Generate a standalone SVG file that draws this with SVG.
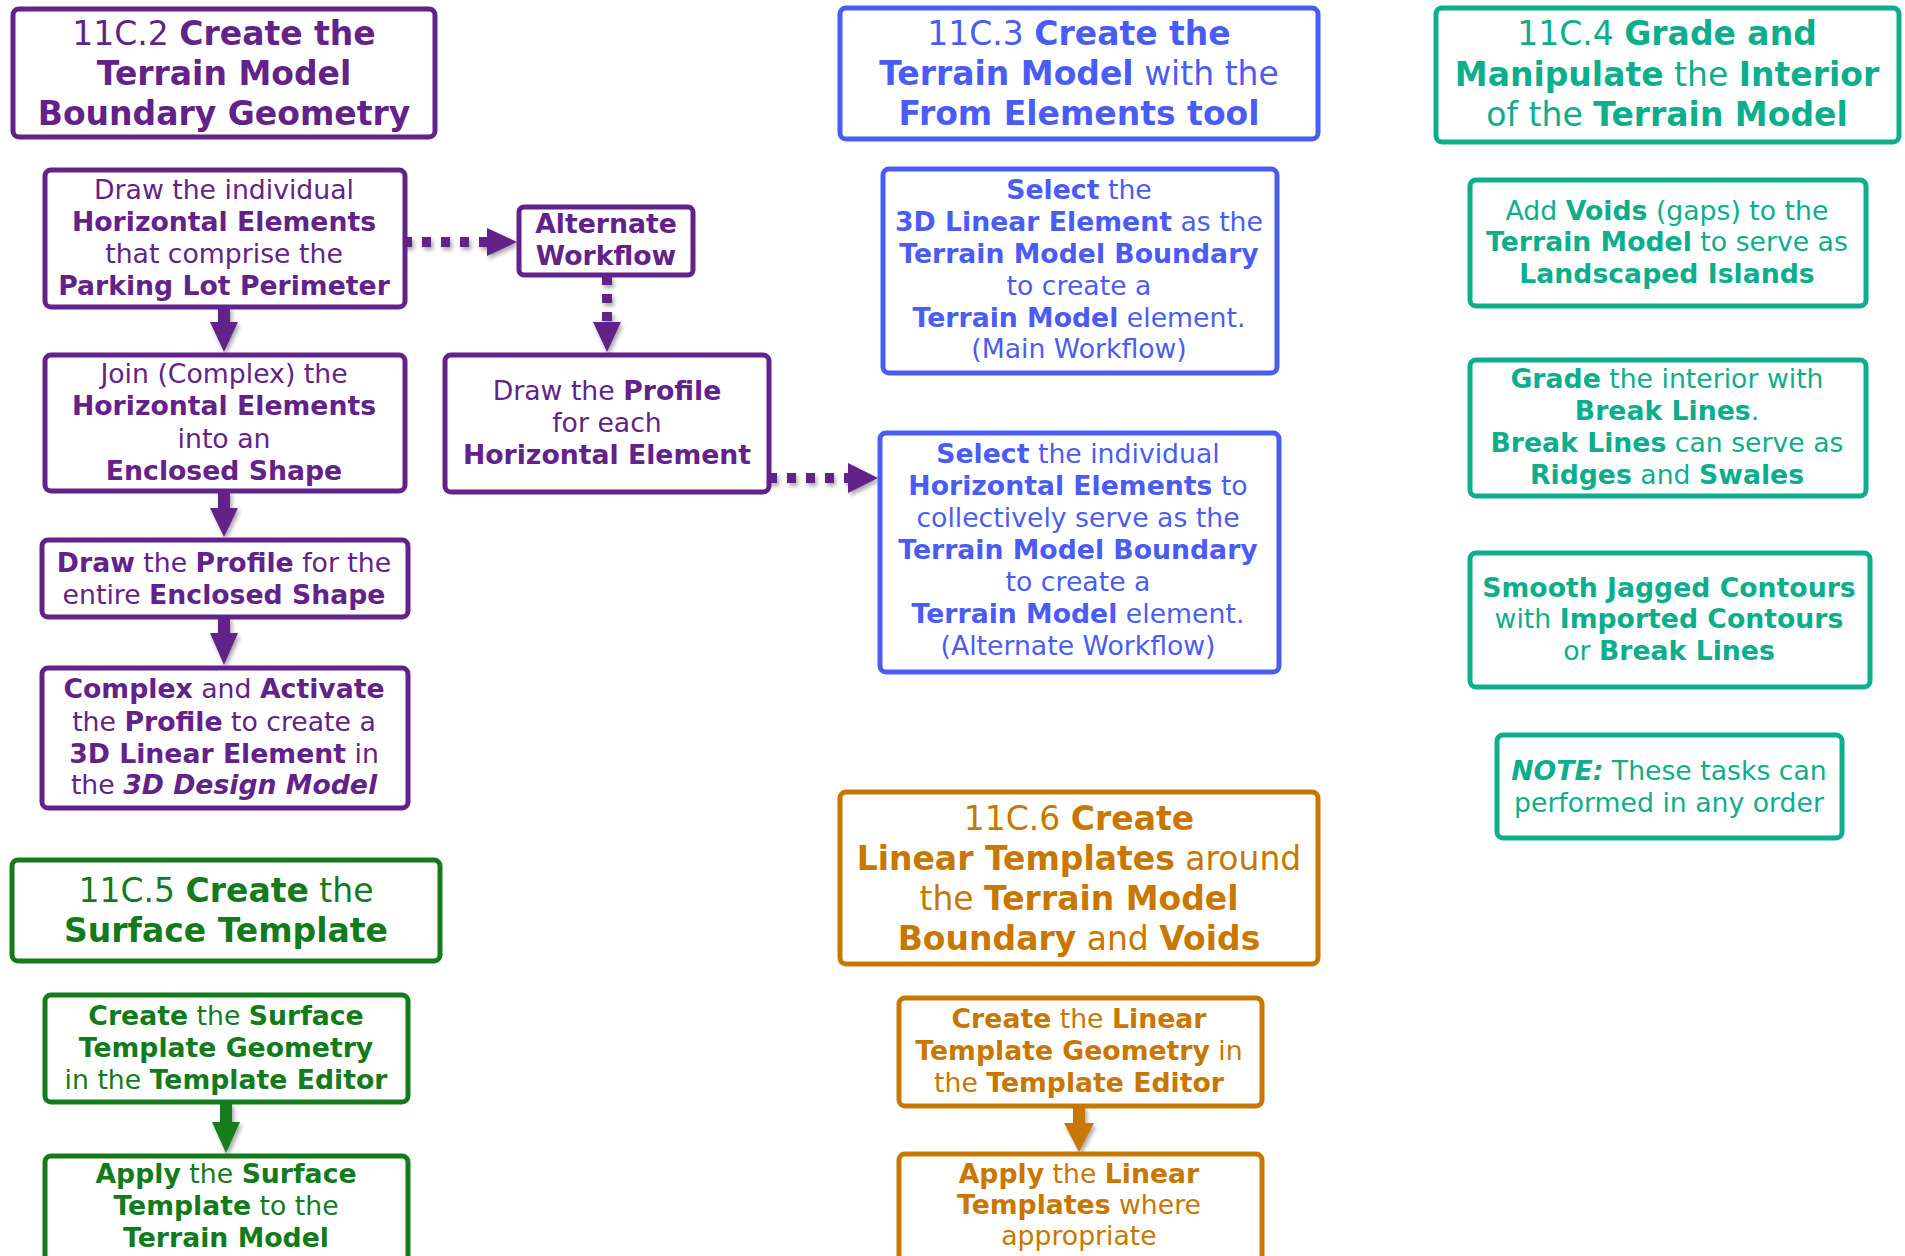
<svg xmlns="http://www.w3.org/2000/svg" width="1905" height="1256" viewBox="0 0 1905 1256">
  <style>
    text { font-family: "DejaVu Sans", Verdana, "Liberation Sans", sans-serif; text-anchor: middle; }
    .hd { font-size: 33px; }
    .bd { font-size: 26.7px; }
    .b { font-weight: bold; }
    .bi { font-weight: bold; font-style: italic; }
    rect.box { fill: #ffffff; stroke-width: 5; }
    .pu rect { stroke: #632289; } .pu text { fill: #632289; }
    .bl rect { stroke: #4B5CF5; } .bl text { fill: #4B5CF5; }
    .tl rect { stroke: #0DAE8B; } .tl text { fill: #0DAE8B; }
    .gr rect { stroke: #137B1C; } .gr text { fill: #137B1C; }
    .or rect { stroke: #C87700; } .or text { fill: #C87700; }
    .dot { fill: none; stroke-width: 10; }
  </style>
  <defs>
    <filter id="shade" x="-30%" y="-30%" width="160%" height="160%">
      <feDropShadow dx="2" dy="3" stdDeviation="2" flood-color="#000" flood-opacity="0.35"/>
    </filter>
  </defs>
  <rect width="1905" height="1256" fill="#ffffff"/>

  <!-- connectors -->
  <g id="connectors" filter="url(#shade)">
    <!-- purple solid chain -->
    <g fill="#632289">
      <rect x="218" y="307" width="12" height="17"/>
      <polygon points="210,322 238,322 224,352"/>
      <rect x="218" y="491" width="12" height="18"/>
      <polygon points="210,508 238,508 224,537"/>
      <rect x="218" y="617" width="12" height="17"/>
      <polygon points="210,633 238,633 224,665"/>
    </g>
    <!-- purple dotted: alternate workflow -->
    <g fill="#632289" stroke="#632289">
      <line class="dot" x1="403" y1="242" x2="489" y2="242" stroke-dasharray="9 10"/>
      <polygon stroke="none" points="487,228 487,256 517,242"/>
      <line class="dot" x1="607" y1="276" x2="607" y2="323" stroke-dasharray="9 9"/>
      <polygon stroke="none" points="593,322 621,322 607,352"/>
      <line class="dot" x1="768" y1="478" x2="850" y2="478" stroke-dasharray="9 10"/>
      <polygon stroke="none" points="848,463 848,493 878,478"/>
    </g>
    <!-- green -->
    <g fill="#137B1C">
      <rect x="220" y="1103" width="12" height="21"/>
      <polygon points="212,1122 240,1122 226,1153"/>
    </g>
    <!-- orange -->
    <g fill="#C87700">
      <rect x="1073" y="1106" width="12" height="18"/>
      <polygon points="1064,1123 1094,1123 1079,1152"/>
    </g>
  </g>

  <!-- 11C.2 column -->
  <g id="h-11c2" class="pu">
    <rect class="box" x="13" y="9" width="422" height="128" rx="6"/>
    <text class="hd" x="224" y="45">11C.2 <tspan class="b">Create the</tspan></text>
    <text class="hd b" x="224" y="85">Terrain Model</text>
    <text class="hd b" x="224" y="125">Boundary Geometry</text>
  </g>
  <g id="n-draw-horizontal" class="pu">
    <rect class="box" x="45" y="170" width="360" height="137" rx="6"/>
    <text class="bd" x="224" y="199">Draw the individual</text>
    <text class="bd b" x="224" y="231">Horizontal Elements</text>
    <text class="bd" x="224" y="263">that comprise the</text>
    <text class="bd b" x="224" y="295">Parking Lot Perimeter</text>
  </g>
  <g id="n-join" class="pu">
    <rect class="box" x="45" y="355" width="360" height="136" rx="6"/>
    <text class="bd" x="224" y="383">Join (Complex) the</text>
    <text class="bd b" x="224" y="415">Horizontal Elements</text>
    <text class="bd" x="224" y="448">into an</text>
    <text class="bd b" x="224" y="480">Enclosed Shape</text>
  </g>
  <g id="n-draw-profile" class="pu">
    <rect class="box" x="42" y="540" width="366" height="77" rx="6"/>
    <text class="bd" x="224" y="572"><tspan class="b">Draw</tspan> the <tspan class="b">Profile</tspan> for the</text>
    <text class="bd" x="224" y="604">entire <tspan class="b">Enclosed Shape</tspan></text>
  </g>
  <g id="n-complex-activate" class="pu">
    <rect class="box" x="42" y="668" width="366" height="140" rx="6"/>
    <text class="bd" x="224" y="698"><tspan class="b">Complex</tspan> and <tspan class="b">Activate</tspan></text>
    <text class="bd" x="224" y="731">the <tspan class="b">Profile</tspan> to create a</text>
    <text class="bd" x="224" y="763"><tspan class="b">3D Linear Element</tspan> in</text>
    <text class="bd" x="224" y="794">the <tspan class="bi">3D Design Model</tspan></text>
  </g>
  <g id="n-alternate" class="pu">
    <rect class="box" x="519" y="207" width="174" height="68" rx="5"/>
    <text class="bd b" x="606" y="233">Alternate</text>
    <text class="bd b" x="606" y="265">Workflow</text>
  </g>
  <g id="n-profile-each" class="pu">
    <rect class="box" x="445" y="355" width="324" height="137" rx="6"/>
    <text class="bd" x="607" y="400">Draw the <tspan class="b">Profile</tspan></text>
    <text class="bd" x="607" y="432">for each</text>
    <text class="bd b" x="607" y="464">Horizontal Element</text>
  </g>

  <!-- 11C.5 -->
  <g id="h-11c5" class="gr">
    <rect class="box" x="12" y="860" width="428" height="101" rx="6"/>
    <text class="hd" x="226" y="902">11C.5 <tspan class="b">Create</tspan> the</text>
    <text class="hd b" x="226" y="942">Surface Template</text>
  </g>
  <g id="n-surface-geometry" class="gr">
    <rect class="box" x="45" y="995" width="363" height="107" rx="6"/>
    <text class="bd" x="226" y="1025"><tspan class="b">Create</tspan> the <tspan class="b">Surface</tspan></text>
    <text class="bd b" x="226" y="1057">Template Geometry</text>
    <text class="bd" x="226" y="1089">in the <tspan class="b">Template Editor</tspan></text>
  </g>
  <g id="n-surface-apply" class="gr">
    <rect class="box" x="45" y="1156" width="363" height="130" rx="6"/>
    <text class="bd" x="226" y="1183"><tspan class="b">Apply</tspan> the <tspan class="b">Surface</tspan></text>
    <text class="bd" x="226" y="1215"><tspan class="b">Template</tspan> to the</text>
    <text class="bd b" x="226" y="1247">Terrain Model</text>
  </g>

  <!-- 11C.3 -->
  <g id="h-11c3" class="bl">
    <rect class="box" x="840" y="8" width="478" height="131" rx="6"/>
    <text class="hd" x="1079" y="45">11C.3 <tspan class="b">Create the</tspan></text>
    <text class="hd" x="1079" y="85"><tspan class="b">Terrain Model</tspan> with the</text>
    <text class="hd b" x="1079" y="125">From Elements tool</text>
  </g>
  <g id="n-select-3d" class="bl">
    <rect class="box" x="883" y="169" width="394" height="204" rx="6"/>
    <text class="bd" x="1079" y="199"><tspan class="b">Select</tspan> the</text>
    <text class="bd" x="1079" y="231"><tspan class="b">3D Linear Element</tspan> as the</text>
    <text class="bd b" x="1079" y="263">Terrain Model Boundary</text>
    <text class="bd" x="1079" y="295">to create a</text>
    <text class="bd" x="1079" y="327"><tspan class="b">Terrain Model</tspan> element.</text>
    <text class="bd" x="1079" y="358">(Main Workflow)</text>
  </g>
  <g id="n-select-individual" class="bl">
    <rect class="box" x="880" y="433" width="399" height="239" rx="6"/>
    <text class="bd" x="1078" y="463"><tspan class="b">Select</tspan> the individual</text>
    <text class="bd" x="1078" y="495"><tspan class="b">Horizontal Elements</tspan> to</text>
    <text class="bd" x="1078" y="527">collectively serve as the</text>
    <text class="bd b" x="1078" y="559">Terrain Model Boundary</text>
    <text class="bd" x="1078" y="591">to create a</text>
    <text class="bd" x="1078" y="623"><tspan class="b">Terrain Model</tspan> element.</text>
    <text class="bd" x="1078" y="655">(Alternate Workflow)</text>
  </g>

  <!-- 11C.6 -->
  <g id="h-11c6" class="or">
    <rect class="box" x="840" y="792" width="478" height="172" rx="6"/>
    <text class="hd" x="1079" y="830">11C.6 <tspan class="b">Create</tspan></text>
    <text class="hd" x="1079" y="870"><tspan class="b">Linear Templates</tspan> around</text>
    <text class="hd" x="1079" y="910">the <tspan class="b">Terrain Model</tspan></text>
    <text class="hd" x="1079" y="950"><tspan class="b">Boundary</tspan> and <tspan class="b">Voids</tspan></text>
  </g>
  <g id="n-linear-geometry" class="or">
    <rect class="box" x="899" y="998" width="363" height="108" rx="6"/>
    <text class="bd" x="1079" y="1028"><tspan class="b">Create</tspan> the <tspan class="b">Linear</tspan></text>
    <text class="bd" x="1079" y="1060"><tspan class="b">Template Geometry</tspan> in</text>
    <text class="bd" x="1079" y="1092">the <tspan class="b">Template Editor</tspan></text>
  </g>
  <g id="n-linear-apply" class="or">
    <rect class="box" x="899" y="1154" width="363" height="130" rx="6"/>
    <text class="bd" x="1079" y="1183"><tspan class="b">Apply</tspan> the <tspan class="b">Linear</tspan></text>
    <text class="bd" x="1079" y="1214"><tspan class="b">Templates</tspan> where</text>
    <text class="bd" x="1079" y="1245">appropriate</text>
  </g>

  <!-- 11C.4 -->
  <g id="h-11c4" class="tl">
    <rect class="box" x="1436" y="8" width="463" height="134" rx="6"/>
    <text class="hd" x="1667" y="45">11C.4 <tspan class="b">Grade and</tspan></text>
    <text class="hd" x="1667" y="86"><tspan class="b">Manipulate</tspan> the <tspan class="b">Interior</tspan></text>
    <text class="hd" x="1667" y="126">of the <tspan class="b">Terrain Model</tspan></text>
  </g>
  <g id="n-voids" class="tl">
    <rect class="box" x="1470" y="180" width="396" height="126" rx="6"/>
    <text class="bd" x="1667" y="220">Add <tspan class="b">Voids</tspan> (gaps) to the</text>
    <text class="bd" x="1667" y="251"><tspan class="b">Terrain Model</tspan> to serve as</text>
    <text class="bd b" x="1667" y="283">Landscaped Islands</text>
  </g>
  <g id="n-break-lines" class="tl">
    <rect class="box" x="1470" y="360" width="396" height="136" rx="6"/>
    <text class="bd" x="1667" y="388"><tspan class="b">Grade</tspan> the interior with</text>
    <text class="bd" x="1667" y="420"><tspan class="b">Break Lines</tspan>.</text>
    <text class="bd" x="1667" y="452"><tspan class="b">Break Lines</tspan> can serve as</text>
    <text class="bd" x="1667" y="484"><tspan class="b">Ridges</tspan> and <tspan class="b">Swales</tspan></text>
  </g>
  <g id="n-smooth" class="tl">
    <rect class="box" x="1470" y="553" width="400" height="134" rx="6"/>
    <text class="bd b" x="1669" y="597">Smooth Jagged Contours</text>
    <text class="bd" x="1669" y="628">with <tspan class="b">Imported Contours</tspan></text>
    <text class="bd" x="1669" y="660">or <tspan class="b">Break Lines</tspan></text>
  </g>
  <g id="n-note" class="tl">
    <rect class="box" x="1497" y="735" width="345" height="103" rx="6"/>
    <text class="bd" x="1669" y="780"><tspan class="bi">NOTE:</tspan> These tasks can</text>
    <text class="bd" x="1669" y="812">performed in any order</text>
  </g>
</svg>
